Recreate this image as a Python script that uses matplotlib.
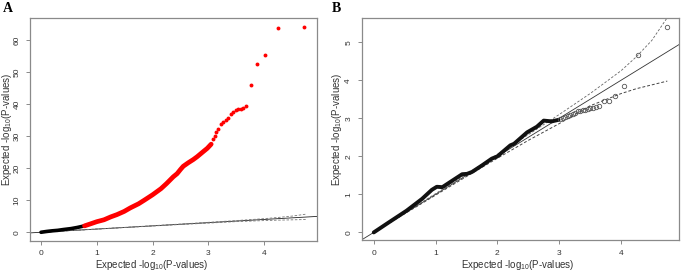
import matplotlib
matplotlib.use("Agg")
import matplotlib.pyplot as plt

plt.rcParams['font.family'] = ['Liberation Sans', 'DejaVu Sans']
plt.rcParams['mathtext.fontset'] = 'custom'
plt.rcParams['mathtext.rm'] = 'Liberation Sans'
plt.rcParams['mathtext.it'] = 'Liberation Sans:italic'

# ---- data ----
# confidence band (shared by both panels)
band_x = [0.0, 0.5, 1.0, 1.5, 2.0, 2.5, 3.0, 3.5, 4.0, 4.25, 4.5, 4.75]
band_hi = [0.0, 0.51, 1.02, 1.53, 2.05, 2.57, 3.1, 3.65, 4.25, 4.62, 5.05, 5.65]
band_lo = [0.0, 0.49, 0.98, 1.47, 1.95, 2.42, 2.86, 3.33, 3.65, 3.78, 3.88, 3.98]

# panel A: dense part (black, then red) and sparse red tail
a_black_x = [0.0, 0.1, 0.2, 0.3, 0.4, 0.54, 0.65, 0.78]
a_black_y = [0.0, 0.25, 0.45, 0.6, 0.85, 1.15, 1.5, 2.0]
a_red_x = [0.78, 0.9, 1.0, 1.13, 1.25, 1.36, 1.49, 1.6, 1.75, 1.85, 2.0, 2.15,
           2.25, 2.37, 2.44, 2.5, 2.55, 2.64, 2.73, 2.8, 2.91, 2.98, 3.05]
a_red_y = [2.0, 2.7, 3.3, 3.9, 4.8, 5.5, 6.5, 7.6, 8.9, 10.0, 11.7, 13.6,
           15.2, 17.3, 18.3, 19.6, 20.6, 21.7, 22.7, 23.6, 25.2, 26.2, 27.5]
a_tail_x = [3.09, 3.12, 3.14, 3.18, 3.23, 3.27, 3.32, 3.36, 3.41, 3.45, 3.49,
            3.53, 3.58, 3.62, 3.67, 3.76, 3.87, 4.02, 4.24, 4.72]
a_tail_y = [29.0, 30.2, 31.2, 32.3, 33.7, 34.3, 35.0, 35.8, 36.8, 37.4, 38.3,
            38.5, 38.5, 38.7, 39.3, 46.0, 52.4, 55.2, 63.8, 64.2]

# panel B: dense part and sparse open circles
b_dense_x = [0.0, 0.24, 0.53, 0.78, 0.94, 1.02, 1.11, 1.26, 1.43, 1.51, 1.59,
             1.75, 1.91, 2.0, 2.21, 2.27, 2.48, 2.64, 2.75, 2.88, 2.99]
b_dense_y = [0.0, 0.26, 0.57, 0.88, 1.12, 1.2, 1.19, 1.35, 1.53, 1.54, 1.59,
             1.76, 1.94, 2.0, 2.29, 2.33, 2.63, 2.78, 2.94, 2.92, 2.96]
b_tail_x = [3.02, 3.06, 3.1, 3.14, 3.18, 3.22, 3.26, 3.3, 3.34, 3.38, 3.42,
            3.46, 3.5, 3.55, 3.6, 3.65, 3.72, 3.81, 3.91, 4.05, 4.27, 4.75]
b_tail_y = [2.98, 3.0, 3.03, 3.06, 3.09, 3.12, 3.15, 3.18, 3.2, 3.22, 3.23,
            3.25, 3.27, 3.28, 3.29, 3.33, 3.46, 3.45, 3.58, 3.85, 4.66, 5.4]

xlabel = r'Expected -log$_{10}$(P-values)'
ylabel = r'Expected -log$_{10}$(P-values)'

fig = plt.figure(figsize=(6.85, 2.72), dpi=100)
axA = fig.add_axes([0.0444, 0.1158, 0.4178, 0.818])
axB = fig.add_axes([0.5285, 0.1176, 0.4628, 0.815])


def style(ax):
    for s in ax.spines.values():
        s.set_color('#8a8a8a')
        s.set_linewidth(0.9)
    ax.tick_params(length=3, width=0.7, color='#8a8a8a', labelsize=6,
                   labelcolor='#333333', pad=4)
    for lab in ax.get_yticklabels():
        lab.set_rotation(90)
        lab.set_va('center')


# ---- panel A ----
axA.axline((0, 0), slope=1, color='#222222', lw=0.6)
axA.plot(band_x, band_hi, color='#777777', lw=0.6, ls=(0, (3, 2)))
axA.plot(band_x, band_lo, color='#777777', lw=0.6, ls=(0, (3, 2)))
axA.plot(a_black_x, a_black_y, color='black', lw=2.6, solid_capstyle='round')
axA.plot(a_red_x, a_red_y, color='#ff0000', lw=3.4, solid_capstyle='round')
axA.plot(a_tail_x, a_tail_y, 'o', color='#ff0000', ms=2.8, mew=0)
axA.set_xlim(-0.19, 4.94)
axA.set_ylim(-2.57, 66.87)
axA.set_xticks([0, 1, 2, 3, 4])
axA.set_yticks([0, 10, 20, 30, 40, 50, 60])
style(axA)
axA.set_xlabel(xlabel, fontsize=7, color='#333333')
axA.set_ylabel(ylabel, fontsize=7, color='#333333')
axA.xaxis.set_label_coords(0.424, -0.11)
axA.yaxis.set_label_coords(-0.082, 0.5)
axA.xaxis.label.set_va('center')
axA.yaxis.label.set_va('center')

# ---- panel B ----
axB.axline((0, 0), slope=1, color='#333333', lw=0.6)
axB.plot(band_x, band_hi, color='#666666', lw=0.6, ls=(0, (3, 2)))
axB.plot(band_x, band_lo, color='#444444', lw=0.7, ls=(0, (3, 2)))
axB.plot(b_dense_x, b_dense_y, color='#111111', lw=2.8, solid_capstyle='round')
axB.plot(b_tail_x, b_tail_y, 'o', mfc='none', mec='#555555', ms=3.2, mew=0.6)
axB.set_xlim(-0.19, 4.94)
axB.set_ylim(-0.2, 5.63)
axB.set_xticks([0, 1, 2, 3, 4])
axB.set_yticks([0, 1, 2, 3, 4, 5])
style(axB)
axB.set_xlabel(xlabel, fontsize=7, color='#333333')
axB.set_ylabel(ylabel, fontsize=7, color='#333333')
axB.xaxis.set_label_coords(0.492, -0.111)
axB.yaxis.set_label_coords(-0.079, 0.5)
axB.xaxis.label.set_va('center')
axB.yaxis.label.set_va('center')

# panel letters
fig.text(0.004, 0.968, 'A', fontsize=10, fontweight='bold',
         family=['Liberation Serif', 'DejaVu Serif'], va='center', ha='left')
fig.text(0.484, 0.968, 'B', fontsize=10, fontweight='bold',
         family=['Liberation Serif', 'DejaVu Serif'], va='center', ha='left')

fig.savefig('out.png', dpi=100)
